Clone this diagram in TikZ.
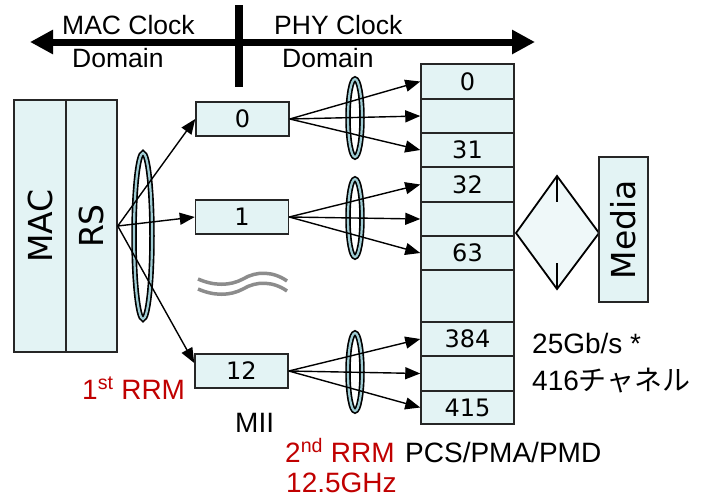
\documentclass[tikz,border=0pt]{standalone}
\usepackage{fontspec}
\setmainfont{Liberation Sans}
\newfontfamily\boxfont{DejaVu Sans}
\newfontfamily\cjk{Noto Sans CJK JP}
\usetikzlibrary{arrows.meta,calc}
\definecolor{boxfill}{HTML}{E3F3F4}
\definecolor{diafill}{HTML}{EFF8F9}
\definecolor{rrmred}{HTML}{C00000}
\definecolor{ringcol}{HTML}{A0CDD4}
\definecolor{wavegray}{HTML}{8C8C8C}
\tikzset{
  cell/.style={draw=black!85, line width=1.5pt, fill=boxfill, inner sep=0pt},
  num/.style={font=\boxfont\fontsize{24}{24}\selectfont},
  big/.style={font=\boxfont\fontsize{33}{33}\selectfont},
  lab/.style={font=\fontsize{28}{28}\selectfont, anchor=base west, inner sep=0pt},
  dom/.style={font=\fontsize{26.5}{26.5}\selectfont, anchor=base west, inner sep=0pt},
  red/.style={text=rrmred},
  fan/.style={line width=1.4pt, -{Triangle[length=15pt,width=12pt]}},
  ringo/.style={line width=5.5pt, black},
  ringi/.style={line width=2.2pt, ringcol},
  wave/.style={line width=3.5pt, wavegray},
}
\begin{document}
\begin{tikzpicture}[x=1pt,y=-1pt]
\useasboundingbox (0,0) rectangle (704,498);
% top domain arrow and separator
\coordinate (al) at (30,42);
\coordinate (ar) at (535,42);
\draw[line width=7pt, {Triangle[length=23pt,width=23pt]}-{Triangle[length=23pt,width=23pt]}] (al) -- (ar);
\coordinate (bt) at (239,5);
\coordinate (bb) at (239,87);
\draw[line width=8pt] (bt) -- (bb);
\node[dom] (t1) at (62,34) {MAC Clock};
\node[dom] (t2) at (72,67) {Domain};
\node[dom] (t3) at (274,34) {PHY Clock};
\node[dom] (t4) at (282,67) {Domain};
% MAC / RS
\node[cell, minimum width=52pt, minimum height=252pt] (mac) at (40,226) {};
\node[cell, minimum width=51pt, minimum height=252pt] (rs) at (91.5,226) {};
\node[big, rotate=90] at (mac.center) {MAC};
\node[big, rotate=90] at (rs.center) {RS};
% MII boxes
\node[cell, num, minimum width=93pt, minimum height=34pt] (b0) at (242.5,119) {0};
\node[cell, num, minimum width=93pt, minimum height=34pt] (b1) at (242,217) {1};
\node[cell, num, minimum width=93pt, minimum height=34pt] (b12) at (241.5,371) {12};
% column
\foreach \n/\t/\b/\s in {r0/64/99/0, r1/99/133/, r2/133/167/31, r3/167/202/32, r4/202/236/, r5/236/270/63, r6/270/322/, r7/322/356/384, r8/356/391/, r9/391/424/415}{
  \pgfmathsetmacro{\h}{\b-\t}
  \pgfmathsetmacro{\c}{(\b+\t)/2}
  \node[cell, num, minimum width=93pt, minimum height=\h pt] (\n) at (467.5,\c) {\raisebox{-2pt}{\s}};
}
% rings
\draw[ringo] (143,236) ellipse [x radius=9pt, y radius=83pt];
\draw[ringi] (143,236) ellipse [x radius=9pt, y radius=83pt];
\foreach \y in {118,218,372}{
  \draw[ringo] (355,\y) ellipse [x radius=7pt, y radius=39pt];
  \draw[ringi] (355,\y) ellipse [x radius=7pt, y radius=39pt];
}
% first fan
\draw[fan] (rs.east) -- (b0.west);
\draw[fan] (rs.east) -- (b1.west);
\draw[fan] (rs.east) -- ($(b12.west)+(0,-8)$);
% second fans
\foreach \s/\a/\b/\c in {b0/r0/r1/r2, b1/r3/r4/r5, b12/r7/r8/r9}{
  \draw[fan] (\s.east) -- (\a.west);
  \draw[fan] (\s.east) -- (\b.west);
  \draw[fan] (\s.east) -- (\c.west);
}
% wave
\draw[wave] (198,279) .. controls (214,286) and (230,286) .. (243,279) .. controls (256,271) and (273,271) .. (287,281);
\draw[wave] (198,289) .. controls (214,296) and (230,296) .. (243,289) .. controls (256,281) and (273,281) .. (287,291);
% diamond and media
\coordinate (dl) at (516,233);
\coordinate (dt) at (557,176);
\coordinate (dr) at (599,233);
\coordinate (db) at (557,289);
\draw[line width=1.8pt, fill=diafill] (dl) -- (dt) -- (dr) -- (db) -- cycle;
\draw[line width=1.8pt] (dt) -- ++(0,26);
\draw[line width=1.8pt] (db) -- ++(0,-26);
\node[cell, minimum width=49pt, minimum height=145pt] (media) at (623.5,229.5) {};
\node[big, rotate=90] at (media.center) {Media};
% labels
\node[lab] (l1) at (532,353) {25Gb/s *};
\node[lab] (l2) at (532,390) {416{\cjk チャネル}};
\node[lab, red] (l3) at (82,399) {1\textsuperscript{st} RRM};
\node[lab] (l4) at (235,432) {MII};
\node[lab, red] (l5) at (285,462) {2\textsuperscript{nd} RRM};
\node[lab, red] (l6) at (286,492) {12.5GHz};
\node[lab] (l7) at (405,462) {PCS/PMA/PMD};
\end{tikzpicture}
\end{document}
